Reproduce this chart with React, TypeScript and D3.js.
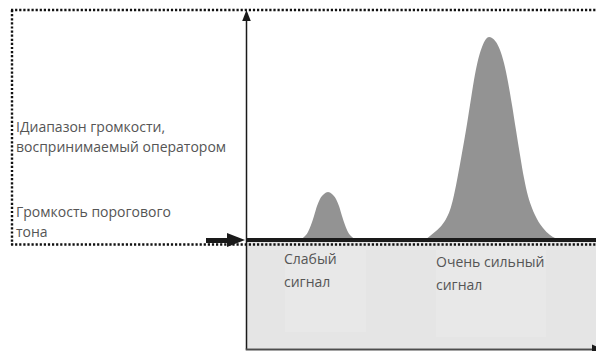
import React from "react";
import * as d3 from "d3";

// Weak signal profile: position (0-100 along the frequency axis) and level above threshold (0-100)
const weakX = [15.43, 16.57, 17.71, 18.57, 19.43, 20.29, 21.14, 22.29, 23.43, 24.57, 25.71, 26.57, 27.43, 28.29, 29.14, 30.29, 32.0];
const weakLevel = [0, 1.3, 3.48, 6.52, 10.43, 14.78, 17.83, 20.0, 20.87, 20.0, 17.83, 14.78, 10.43, 6.52, 3.48, 1.3, 0];

// Very strong signal profile
const strongX = [
  51.14, 52.57, 54.29, 56.0, 57.43, 58.57, 59.43, 60.57, 61.71, 62.86, 64.0, 65.14, 66.29, 67.43, 68.57, 69.43,
  70.29, 71.43, 72.57, 73.71, 74.86, 76.0, 77.14, 78.29, 79.43, 80.57, 81.71, 83.14, 84.86, 86.86, 89.71,
];
const strongLevel = [
  0, 1.74, 3.91, 6.52, 10.0, 14.35, 19.57, 28.26, 37.83, 47.83, 58.7, 69.57, 78.26, 83.91, 87.39, 88.26,
  87.83, 86.09, 82.61, 76.96, 68.7, 58.7, 47.83, 36.96, 26.96, 19.13, 13.91, 9.13, 5.22, 2.17, 0,
];

const rangeLabel = ["IДиапазон громкости,", "воспринимаемый оператором"];
const thresholdLabel = ["Громкость порогового", "тона"];
const weakLabel = ["Слабый", "сигнал"];
const strongLabel = ["Очень сильный", "сигнал"];

const W = 596;
const H = 351;

export default function App() {
  const x = d3.scaleLinear().domain([0, 100]).range([246, 596]);
  const y = d3.scaleLinear().domain([0, 100]).range([240, 10]);

  const area = d3
    .area<[number, number]>()
    .x((d) => x(d[0]))
    .y0(y(0))
    .y1((d) => y(d[1]))
    .curve(d3.curveMonotoneX);

  const weak = weakX.map((v, i) => [v, weakLevel[i]] as [number, number]);
  const strong = strongX.map((v, i) => [v, strongLevel[i]] as [number, number]);

  const font = "'Open Sans', 'Noto Sans', sans-serif";
  const textColor = "#555555";
  const fs = 14;

  const axisX = x(0);
  const baseY = y(0);
  const bottomY = 349.5;

  return (
    <svg
      width={W}
      height={H}
      style={{ position: "absolute", left: 0, top: 0, background: "#fff" }}
    >
      {/* grey region below threshold */}
      <rect x={axisX + 1} y={baseY + 2} width={W - axisX} height={bottomY - baseY - 3} fill="#e5e5e5" />
      <rect x={285} y={250} width={81} height={82} fill="#e8e8e8" />
      <rect x={436} y={250} width={110} height={87} fill="#e8e8e8" />

      {/* signal peaks */}
      <path d={area(weak) || ""} fill="#939393" />
      <path d={area(strong) || ""} fill="#939393" />

      {/* dotted frame */}
      <g stroke="#111" strokeWidth={2.4} strokeDasharray="2.2 1.9" fill="none">
        <line x1={11} y1={10} x2={W} y2={10} />
        <line x1={12} y1={10} x2={12} y2={244.5} />
        <line x1={11} y1={244.5} x2={W} y2={244.5} />
      </g>

      {/* vertical axis */}
      <line x1={axisX + 0.5} y1={18} x2={axisX + 0.5} y2={bottomY} stroke="#1a1a1a" strokeWidth={1.5} />
      <path d={`M${axisX + 0.5},${10} L${axisX + 4.8},${21} L${axisX - 3.8},${21} Z`} fill="#1a1a1a" />

      {/* horizontal axis */}
      <line x1={axisX - 0.3} y1={bottomY} x2={W} y2={bottomY} stroke="#4d4d4d" strokeWidth={2} />
      <path d={`M${603},${bottomY} L${592},${bottomY - 5} L${592},${bottomY + 5} Z`} fill="#1a1a1a" />

      {/* threshold line */}
      <line x1={axisX} y1={baseY} x2={W} y2={baseY} stroke="#1a1a1a" strokeWidth={4} />

      {/* threshold arrow */}
      <line x1={206} y1={baseY + 0.5} x2={230} y2={baseY + 0.5} stroke="#1a1a1a" strokeWidth={5} />
      <path d={`M${245},${baseY} L${227},${baseY - 7} L${227},${baseY + 7} Z`} fill="#1a1a1a" />

      {/* labels */}
      <g fontFamily={font} fontSize={fs} fill={textColor}>
        <text x={16} y={132}>{rangeLabel[0]}</text>
        <text x={16} y={152}>{rangeLabel[1]}</text>
        <text x={16} y={217}>{thresholdLabel[0]}</text>
        <text x={16} y={237}>{thresholdLabel[1]}</text>
        <text x={284} y={264}>{weakLabel[0]}</text>
        <text x={284} y={287}>{weakLabel[1]}</text>
        <text x={436} y={267}>{strongLabel[0]}</text>
        <text x={436} y={290}>{strongLabel[1]}</text>
      </g>
    </svg>
  );
}
